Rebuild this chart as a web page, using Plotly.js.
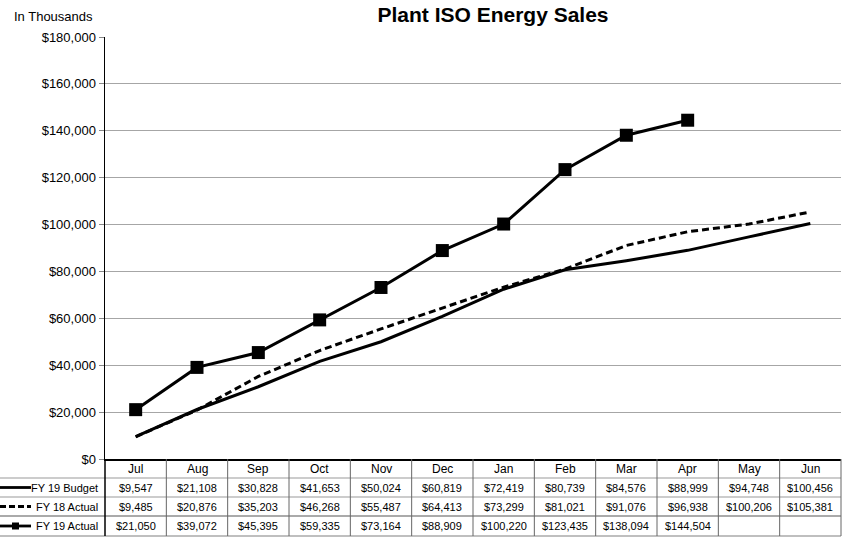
<!DOCTYPE html>
<html>
<head>
<meta charset="utf-8">
<script src="https://cdn.plot.ly/plotly-3.0.1.min.js"></script>
<style>html,body{margin:0;padding:0;background:#fff;}#chart{width:842px;height:541px;}</style>
</head>
<body>
<div id="chart"></div>
<script>
const months = ["Jul","Aug","Sep","Oct","Nov","Dec","Jan","Feb","Mar","Apr","May","Jun"];
const fy19Budget = [9547,21108,30828,41653,50024,60819,72419,80739,84576,88999,94748,100456];
const fy18Actual = [9485,20876,35203,46268,55487,64413,73299,81021,91076,96938,100206,105381];
const fy19Actual = [21050,39072,45395,59335,73164,88909,100220,123435,138094,144504,null,null];
const seriesNames = ["FY 19 Budget","FY 18 Actual","FY 19 Actual"];
const yTicks = [0,20000,40000,60000,80000,100000,120000,140000,160000,180000];

const W = 842, H = 541, ML = 105, MR = 1, MT = 37, MB = 82;
const PW = W - ML - MR, PH = H - MT - MB;
const px = x => (x - ML) / PW;
const py = y => (H - MB - y) / PH;
const sans = "Liberation Sans, Arial, sans-serif";
const fmt = v => v == null ? "" : "$" + v.toLocaleString("en-US");

const traces = [
  {x: months, y: fy19Budget, name: seriesNames[0], type: "scatter", mode: "lines",
   line: {color: "#000", width: 3}},
  {x: months, y: fy18Actual, name: seriesNames[1], type: "scatter", mode: "lines",
   line: {color: "#000", width: 3, dash: "7px,4px"}},
  {x: months, y: fy19Actual, name: seriesNames[2], type: "scatter", mode: "lines+markers",
   line: {color: "#000", width: 3}, marker: {symbol: "square", size: 13, color: "#000"}}
];

const shapes = [];
const annotations = [];
const rowTops = [459, 478, 497, 516, 536];
const colW = PW / months.length;
shapes.push({type:"line", xref:"paper", yref:"paper", x0:px(0), x1:px(W-1), y0:py(478), y1:py(478), line:{color:"#999", width:1}});
shapes.push({type:"line", xref:"paper", yref:"paper", x0:px(0), x1:px(W-1), y0:py(497), y1:py(497), line:{color:"#999", width:1}});
shapes.push({type:"line", xref:"paper", yref:"paper", x0:px(0), x1:px(W-1), y0:py(516), y1:py(516), line:{color:"#aaa", width:2}});
shapes.push({type:"line", xref:"paper", yref:"paper", x0:px(0), x1:px(W-1), y0:py(536), y1:py(536), line:{color:"#aaa", width:1.5}});
for (let i = 0; i <= months.length; i++) {
  const x = ML + i * colW;
  shapes.push({type:"line", xref:"paper", yref:"paper", x0:px(x), x1:px(x), y0:py(459), y1:py(536),
    line:{color: i === 0 ? "#000" : "#666", width: i === 0 ? 1.5 : 1}});
}
months.forEach((m, i) => {
  annotations.push({xref:"paper", yref:"paper", x:px(ML + (i+0.5)*colW), y:py(468.5), text:m, showarrow:false,
    xanchor:"center", yanchor:"middle", font:{family:sans, size:12, color:"#000"}});
});
const rows = [fy19Budget, fy18Actual, fy19Actual];
rows.forEach((r, ri) => {
  const yc = (rowTops[ri+1] + rowTops[ri+2]) / 2;
  r.forEach((v, i) => {
    annotations.push({xref:"paper", yref:"paper", x:px(ML + (i+0.5)*colW), y:py(yc), text:fmt(v), showarrow:false,
      xanchor:"center", yanchor:"middle", font:{family:sans, size:11, color:"#000"}});
  });
  annotations.push({xref:"paper", yref:"paper", x:px(100), y:py(yc), text:seriesNames[ri], showarrow:false,
    xanchor:"right", yanchor:"middle", font:{family:sans, size:11, color:"#000"}});
  const ls = {color:"#000", width:2.8};
  if (ri === 1) ls.dash = "6px,3px";
  shapes.push({type:"line", xref:"paper", yref:"paper", x0:px(0), x1:px(31), y0:py(yc), y1:py(yc), line:ls});
  if (ri === 2) {
    shapes.push({type:"rect", xref:"paper", yref:"paper", x0:px(12), x1:px(19), y0:py(yc-3.5), y1:py(yc+3.5),
      fillcolor:"#000", line:{width:0}});
  }
});
annotations.push({xref:"paper", yref:"paper", x:px(12), y:py(17), text:"In Thousands", showarrow:false,
  xanchor:"left", yanchor:"middle", font:{family:sans, size:13, color:"#000"}});

const layout = {
  width: W, height: H,
  margin: {l: ML, r: MR, t: MT, b: MB, pad: 0},
  paper_bgcolor: "#fff", plot_bgcolor: "#fff",
  showlegend: false,
  title: {text: "<b>Plant ISO Energy Sales</b>", x: 493 / W, xanchor: "center", y: 1 - 15 / H, yanchor: "middle",
    font: {family: sans, size: 21, color: "#000"}},
  xaxis: {type: "category", showticklabels: false, showgrid: false, zeroline: false,
    showline: true, linecolor: "#000", linewidth: 2, ticks: "", range: [-0.5, 11.5], fixedrange: true},
  yaxis: {range: [0, 180000], tickvals: yTicks, ticktext: yTicks.map(v => "$" + v.toLocaleString("en-US")),
    showgrid: true, gridcolor: "#a6a6a6", gridwidth: 1, zeroline: false,
    showline: true, linecolor: "#000", linewidth: 1.5, ticks: "outside", ticklen: 5, tickcolor: "#888",
    tickfont: {family: sans, size: 13, color: "#000"}, fixedrange: true},
  shapes: shapes,
  annotations: annotations
};

Plotly.newPlot("chart", traces, layout, {displayModeBar: false, staticPlot: true});
</script>
</body>
</html>
